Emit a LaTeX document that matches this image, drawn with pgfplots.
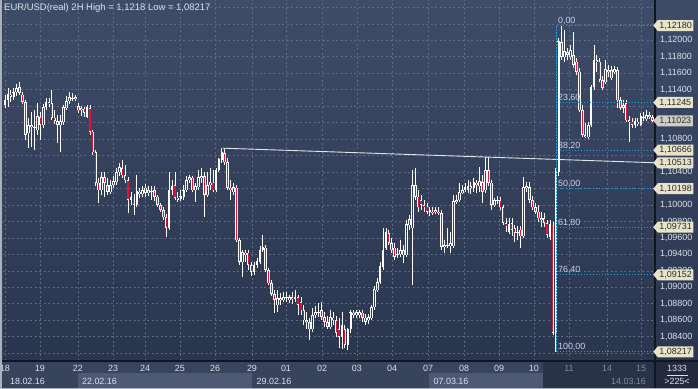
\documentclass[border=0pt]{standalone}
\usepackage{fontspec}
\setmainfont{Liberation Sans}
\usepackage{pgfplots}
\usepackage{pgfplotstable}
\pgfplotsset{compat=1.18}
\usetikzlibrary{shapes.symbols}
\definecolor{bgtop}{RGB}{63,76,104}
\definecolor{bgbot}{RGB}{42,53,78}
\definecolor{panel}{RGB}{56,67,92}
\definecolor{boxc}{RGB}{78,90,116}
\definecolor{darkov}{RGB}{40,50,72}
\definecolor{gridc}{RGB}{92,106,134}
\definecolor{candred}{RGB}{228,18,52}
\definecolor{fibc}{RGB}{28,160,222}
\definecolor{fibtxt}{RGB}{200,210,228}
\definecolor{labc}{RGB}{218,225,238}
\definecolor{dimc}{RGB}{128,138,158}
\definecolor{tagbg}{RGB}{232,228,202}
\definecolor{tagbg2}{RGB}{205,205,196}
\definecolor{tagtxt}{RGB}{45,45,45}
\definecolor{bordc}{RGB}{170,176,190}
\definecolor{sepc}{RGB}{16,22,34}

\pgfplotstableread{
b o h l c
0 1.1121 1.1134 1.1118 1.1127
1 1.1127 1.1142 1.1119 1.1134
2 1.1134 1.1140 1.1125 1.1131
3 1.1131 1.1142 1.1127 1.1137
4 1.1137 1.1147 1.1132 1.1141
5 1.1143 1.1149 1.1134 1.1136
6 1.1134 1.1137 1.1123 1.1125
7 1.1125 1.1127 1.1079 1.1085
8 1.1088 1.1106 1.1069 1.1097
9 1.1097 1.1113 1.1070 1.1095
10 1.1095 1.1115 1.1067 1.1094
11 1.1091 1.1124 1.1085 1.1107
12 1.1107 1.1113 1.1079 1.1097
13 1.1097 1.1123 1.1094 1.1119
14 1.1119 1.1130 1.1115 1.1125
15 1.1125 1.1130 1.1119 1.1123
16 1.1124 1.1140 1.1103 1.1106
17 1.1106 1.1115 1.1098 1.1102
18 1.1102 1.1109 1.1075 1.1097
19 1.1097 1.1109 1.1064 1.1101
20 1.1101 1.1121 1.1097 1.1118
21 1.1118 1.1132 1.1115 1.1126
22 1.1126 1.1137 1.1123 1.1130
23 1.1130 1.1136 1.1126 1.1129
24 1.1129 1.1134 1.1126 1.1130
25 1.1120 1.1124 1.1112 1.1115
26 1.1115 1.1120 1.1108 1.1117
27 1.1117 1.1119 1.1107 1.1112
28 1.1107 1.1121 1.1106 1.1118
29 1.1118 1.1121 1.1085 1.1089
30 1.1089 1.1091 1.1061 1.1064
31 1.1064 1.1067 1.1023 1.1027
32 1.1027 1.1033 1.1003 1.1018
33 1.1018 1.1040 1.1012 1.1034
34 1.1034 1.1040 1.1010 1.1027
35 1.1024 1.1033 1.1012 1.1016
36 1.1016 1.1030 1.1013 1.1024
37 1.1024 1.1035 1.1021 1.1028
38 1.1028 1.1045 1.1024 1.1040
39 1.1040 1.1051 1.1035 1.1045
40 1.1045 1.1055 1.1033 1.1036
41 1.1036 1.1049 1.1027 1.1030
42 1.1030 1.1034 1.0990 1.1006
43 1.1006 1.1016 1.1000 1.1009
44 1.1009 1.1013 1.0988 1.1000
45 1.1000 1.1036 1.0998 1.1016
46 1.1016 1.1021 1.1009 1.1013
47 1.1013 1.1023 1.1010 1.1018
48 1.1021 1.1026 1.1010 1.1015
49 1.1015 1.1023 1.1011 1.1017
50 1.1017 1.1023 1.1006 1.1016
51 1.1018 1.1023 1.1005 1.1010
52 1.1010 1.1012 1.0997 1.1000
53 1.1000 1.1003 1.0992 1.0994
54 1.0994 1.0998 1.0982 1.0985
55 1.0985 1.0989 1.0961 1.0972
56 1.0972 1.1040 1.0970 1.1018
57 1.1018 1.1030 1.1012 1.1023
58 1.1024 1.1040 1.1006 1.1009
59 1.1009 1.1016 1.1004 1.1006
60 1.1007 1.1018 1.1005 1.1010
61 1.1010 1.1024 1.1006 1.1018
62 1.1018 1.1035 1.1016 1.1030
63 1.1030 1.1036 1.1027 1.1033
64 1.1033 1.1035 1.1016 1.1018
65 1.1018 1.1027 1.1004 1.1022
66 1.1022 1.1042 1.1018 1.1033
67 1.1033 1.1045 1.1027 1.1035
68 1.1035 1.1040 1.0985 1.1012
69 1.1012 1.1040 1.1010 1.1024
70 1.1024 1.1045 1.1018 1.1027
71 1.1027 1.1042 1.1016 1.1018
72 1.1018 1.1045 1.1016 1.1042
73 1.1042 1.1057 1.1040 1.1055
74 1.1055 1.1069 1.1051 1.1064
75 1.1063 1.1069 1.1049 1.1052
76 1.1052 1.1057 1.1018 1.1021
77 1.1021 1.1030 1.1006 1.1018
78 1.1016 1.1027 1.1012 1.1021
79 1.1021 1.1024 1.0955 1.0957
80 1.0957 1.0960 1.0927 1.0931
81 1.0931 1.0945 1.0913 1.0942
82 1.0942 1.0945 1.0931 1.0939
83 1.0942 1.0945 1.0921 1.0927
84 1.0927 1.0931 1.0914 1.0919
85 1.0919 1.0931 1.0915 1.0927
86 1.0927 1.0936 1.0924 1.0931
87 1.0931 1.0950 1.0928 1.0945
88 1.0945 1.0964 1.0943 1.0948
89 1.0948 1.0951 1.0919 1.0921
90 1.0921 1.0924 1.0903 1.0905
91 1.0905 1.0909 1.0889 1.0892
92 1.0892 1.0897 1.0869 1.0885
93 1.0879 1.0897 1.0870 1.0887
94 1.0887 1.0893 1.0879 1.0885
95 1.0885 1.0894 1.0882 1.0888
96 1.0888 1.0894 1.0882 1.0887
97 1.0885 1.0891 1.0881 1.0888
98 1.0888 1.0894 1.0880 1.0886
99 1.0886 1.0897 1.0882 1.0888
100 1.0888 1.0891 1.0866 1.0879
101 1.0882 1.0888 1.0866 1.0872
102 1.0872 1.0879 1.0854 1.0860
103 1.0860 1.0870 1.0849 1.0858
104 1.0858 1.0863 1.0836 1.0849
105 1.0849 1.0875 1.0846 1.0866
106 1.0866 1.0877 1.0863 1.0870
107 1.0870 1.0881 1.0864 1.0869
108 1.0872 1.0882 1.0860 1.0864
109 1.0864 1.0870 1.0852 1.0858
110 1.0858 1.0865 1.0849 1.0852
111 1.0852 1.0872 1.0849 1.0863
112 1.0863 1.0870 1.0854 1.0860
113 1.0860 1.0865 1.0840 1.0845
114 1.0849 1.0863 1.0826 1.0840
115 1.0840 1.0870 1.0825 1.0854
116 1.0849 1.0854 1.0826 1.0830
117 1.0830 1.0851 1.0824 1.0849
118 1.0849 1.0872 1.0845 1.0869
119 1.0869 1.0872 1.0863 1.0866
120 1.0866 1.0872 1.0863 1.0869
121 1.0866 1.0872 1.0863 1.0870
122 1.0869 1.0872 1.0858 1.0863
123 1.0863 1.0868 1.0854 1.0858
124 1.0860 1.0868 1.0855 1.0863
125 1.0863 1.0879 1.0860 1.0876
126 1.0876 1.0902 1.0872 1.0897
127 1.0897 1.0911 1.0894 1.0906
128 1.0906 1.0931 1.0904 1.0925
129 1.0925 1.0972 1.0921 1.0945
130 1.0948 1.0972 1.0945 1.0967
131 1.0966 1.0970 1.0951 1.0954
132 1.0954 1.0960 1.0942 1.0945
133 1.0948 1.0954 1.0933 1.0937
134 1.0939 1.0948 1.0936 1.0940
135 1.0940 1.0957 1.0937 1.0945
136 1.0945 1.0951 1.0930 1.0939
137 1.0939 1.0982 1.0937 1.0976
138 1.0976 1.0988 1.0970 1.0982
139 1.0972 1.1042 1.0903 1.1024
140 1.1024 1.1045 1.1006 1.1010
141 1.1010 1.1018 1.0992 1.0997
142 1.1006 1.1012 1.0994 1.1000
143 1.1000 1.1006 1.0992 1.0998
144 1.0998 1.1003 1.0989 1.0992
145 1.0992 1.0997 1.0987 1.0993
146 1.0992 1.0997 1.0988 1.0990
147 1.0992 1.0997 1.0989 1.0993
148 1.0992 1.0997 1.0988 1.0990
149 1.0990 1.0994 1.0945 1.0949
150 1.0949 1.0957 1.0942 1.0951
151 1.0951 1.0972 1.0948 1.0950
152 1.0950 1.0967 1.0942 1.0953
153 1.0950 1.1012 1.0948 1.1004
154 1.1004 1.1012 1.1001 1.1006
155 1.1006 1.1027 1.1004 1.1015
156 1.1015 1.1024 1.1013 1.1018
157 1.1018 1.1027 1.1016 1.1021
158 1.1018 1.1030 1.1015 1.1023
159 1.1023 1.1028 1.1013 1.1021
160 1.1021 1.1033 1.1016 1.1027
161 1.1027 1.1030 1.1015 1.1024
162 1.1023 1.1046 1.1016 1.1028
163 1.1028 1.1036 1.1003 1.1016
164 1.1018 1.1058 1.1015 1.1042
165 1.1042 1.1058 1.1023 1.1027
166 1.1027 1.1030 1.0994 1.1000
167 1.1000 1.1009 1.0997 1.1006
168 1.1006 1.1011 1.1001 1.1005
169 1.1006 1.1010 1.0994 1.0997
170 1.0997 1.1000 1.0976 1.0978
171 1.0978 1.0984 1.0967 1.0974
172 1.0967 1.0984 1.0965 1.0976
173 1.0978 1.0984 1.0962 1.0970
174 1.0972 1.0976 1.0955 1.0966
175 1.0966 1.0974 1.0957 1.0967
176 1.0970 1.0974 1.0948 1.0962
177 1.0962 1.1034 1.0960 1.1021
178 1.1021 1.1028 1.1016 1.1022
179 1.1022 1.1028 1.1003 1.1006
180 1.1006 1.1011 1.0994 1.0997
181 1.0997 1.1003 1.0989 1.0992
182 1.0992 1.1000 1.0979 1.0984
183 1.0984 1.0992 1.0973 1.0982
184 1.0984 1.0990 1.0973 1.0978
185 1.0978 1.0982 1.0960 1.0964
186 1.0961 1.0982 1.0957 1.0976
187 1.0976 1.0979 1.0842 1.0845
188 1.0845 1.1045 1.08217 1.1040
189 1.1040 1.1203 1.1035 1.1198
190 1.1198 1.1218 1.1176 1.1180
191 1.1180 1.1213 1.1174 1.1186
192 1.1186 1.1191 1.1176 1.1182
193 1.1180 1.1194 1.1176 1.1188
194 1.1182 1.1210 1.1166 1.1170
195 1.1174 1.1179 1.1158 1.1162
196 1.1162 1.1166 1.1113 1.1115
197 1.1115 1.1121 1.1083 1.1085
198 1.1085 1.1100 1.1081 1.1083
199 1.1083 1.1101 1.1080 1.1097
200 1.1097 1.1146 1.1095 1.1143
201 1.1143 1.1194 1.1140 1.1176
202 1.1176 1.1182 1.1162 1.1174
203 1.1174 1.1179 1.1149 1.1152
204 1.1152 1.1157 1.1140 1.1142
205 1.1149 1.1176 1.1147 1.1164
206 1.1164 1.1170 1.1155 1.1162
207 1.1164 1.1169 1.1152 1.1154
208 1.1162 1.1169 1.1159 1.1164
209 1.1164 1.1168 1.1118 1.1127
210 1.1127 1.1131 1.1115 1.1118
211 1.1121 1.1127 1.1112 1.1118
212 1.1124 1.1127 1.1101 1.1103
213 1.1103 1.1108 1.1077 1.1101
214 1.1101 1.1106 1.1094 1.1097
215 1.1097 1.1106 1.1094 1.1101
216 1.1101 1.1106 1.1096 1.1098
217 1.1097 1.1112 1.1096 1.1107
218 1.1107 1.1113 1.1102 1.1106
219 1.1104 1.1115 1.1102 1.1109
220 1.1109 1.1113 1.1104 1.1107
221 1.1107 1.1109 1.1101 1.11023
}\candles

\tikzset{
  tag/.style={signal, signal to=west, signal pointer angle=100, fill=tagbg, text=tagtxt,
    font=\fontsize{9}{10}\selectfont, inner xsep=1.6bp, inner ysep=1.2bp, minimum height=11bp, anchor=west},
  fiblab/.style={anchor=south west, font=\fontsize{9}{10}\selectfont, text=fibtxt, inner sep=0.6bp, xshift=0.5bp},
  datelab/.style={font=\fontsize{9}{10}\selectfont, text=labc, inner sep=0pt}
}
\pgfplotsset{
  candle/.style n args={2}{draw=none, mark=none, forget plot,
    /pgfplots/error bars/y explicit,
    /pgfplots/error bars/y dir=#1,
    /pgfplots/error bars/error mark=none,
    /pgfplots/error bars/error bar style={line cap=butt, #2}},
  fibline/.style={fibc, line width=0.8bp, dash pattern=on 1.6bp off 1.4bp, mark=none},
}

\begin{document}
\begin{tikzpicture}
\useasboundingbox (0,0) rectangle (698bp,389bp);
\fill[panel] (0,0) rectangle (698bp,389bp);
\shade[top color=bgtop, bottom color=bgbot] (655bp,28bp) rectangle (698bp,389bp);
% bottom date panel
\fill[boxc] (78bp,0) rectangle (252bp,16bp);
\fill[boxc] (429bp,0) rectangle (543bp,16bp);
\fill[darkov] (543bp,1bp) rectangle (655bp,28bp);
\fill[darkov!85!black] (655bp,0) rectangle (698bp,28bp);

\begin{axis}[
  at={(3bp,28bp)}, anchor=south west, scale only axis,
  width=652bp, height=361bp,
  xmin=-0.68, xmax=221.84, ymin=1.08105, ymax=1.12490,
  clip=false,
  axis line style={draw=none},
  axis background/.style={top color=bgtop, bottom color=bgbot},
  major tick length=0pt,
  xtick={0,11.9,24.9,36.9,47.8,59.7,71.7,84.3,95.9,108.2,120.1,132.1,144.4,156.7,168.6,180.5,192.5,205.5,217.1},
  xticklabels={18,19,22,23,24,25,26,29,01,02,03,04,07,08,09,10,\textcolor{dimc}{11},\textcolor{dimc}{14},\textcolor{dimc}{15}},
  ytick={1.084,1.086,1.088,1.090,1.092,1.094,1.096,1.098,1.100,1.104,1.108,1.114,1.116,1.118,1.120},
  extra y ticks={1.082,1.102,1.106,1.110,1.112,1.122,1.124}, extra y tick labels={},
  yticklabel pos=right,
  scaled y ticks=false,
  y tick label style={/pgf/number format/fixed, /pgf/number format/fixed zerofill,
    /pgf/number format/precision=5, /pgf/number format/use comma,
    /pgf/number format/assume math mode=true, xshift=1.5bp},
  tick label style={font=\fontsize{9}{10}\selectfont, text=labc},
  xticklabel shift=1bp,
  grid=major,
  grid style={draw=gridc, dash pattern=on 2bp off 2.5bp, line width=0.7bp},
]
% lower wicks
\addplot[candle={minus}{draw=white, line width=0.8bp}]
  table[x=b, y expr={min(\thisrow{o},\thisrow{c})}, y error expr={min(\thisrow{o},\thisrow{c})-\thisrow{l}}] {\candles};
% upper wicks
\addplot[candle={plus}{draw=white, line width=0.8bp}]
  table[x=b, y expr={max(\thisrow{o},\thisrow{c})}, y error expr={\thisrow{h}-max(\thisrow{o},\thisrow{c})}] {\candles};
% down candles: white outline
\addplot[candle={plus}{draw=white, line width=2.6bp}]
  table[x=b, y=c, y error expr={max(\thisrow{o}-\thisrow{c},0.00006)}] {\candles};
% down candles: red fill
\addplot[candle={plus}{draw=candred, line width=1.15bp}]
  table[x=b, y expr={\thisrow{c}+0.00008}, y error expr={max(\thisrow{o}-\thisrow{c}-0.00016,0)}] {\candles};
% up candles: hollow body (two sides)
\addplot[candle={plus}{draw=white, line width=0.8bp}]
  table[x expr={\thisrow{b}-0.28}, y=o, y error expr={max(\thisrow{c}-\thisrow{o},0)}] {\candles};
\addplot[candle={plus}{draw=white, line width=0.8bp}]
  table[x expr={\thisrow{b}+0.28}, y=o, y error expr={max(\thisrow{c}-\thisrow{o},0)}] {\candles};

% trend line
\addplot[draw={rgb,255:red,226;green,229;blue,236}, line width=0.9bp, mark=none] coordinates {(74.4,1.1069) (221.84,1.10513)};

% Fibonacci levels
\addplot[fibline] coordinates {(188.3,1.08217) (188.3,1.12180)};
\addplot[fibline] coordinates {(188.3,1.12180) (221.84,1.12180)};
\addplot[fibline] coordinates {(188.3,1.11245) (221.84,1.11245)};
\addplot[fibline] coordinates {(188.3,1.10666) (221.84,1.10666)};
\addplot[fibline] coordinates {(188.3,1.10198) (221.84,1.10198)};
\addplot[fibline] coordinates {(188.3,1.09731) (221.84,1.09731)};
\addplot[fibline] coordinates {(188.3,1.09152) (221.84,1.09152)};
\addplot[fibline] coordinates {(188.3,1.08217) (221.84,1.08217)};

\node[fiblab] at (axis cs:188.3,1.12180) {0,00};
\node[fiblab] at (axis cs:188.3,1.11245) {23,60};
\node[fiblab] at (axis cs:188.3,1.10666) {38,20};
\node[fiblab] at (axis cs:188.3,1.10198) {50,00};
\node[fiblab] at (axis cs:188.3,1.09731) {61,80};
\node[fiblab] at (axis cs:188.3,1.09152) {76,40};
\node[fiblab] at (axis cs:188.3,1.08217) {100,00};

\coordinate (T1) at (axis cs:221.84,1.12180);
\coordinate (T2) at (axis cs:221.84,1.11245);
\coordinate (T3) at (axis cs:221.84,1.11023);
\coordinate (T4) at (axis cs:221.84,1.10666);
\coordinate (T5) at (axis cs:221.84,1.10513);
\coordinate (T6) at (axis cs:221.84,1.10198);
\coordinate (T7) at (axis cs:221.84,1.09731);
\coordinate (T8) at (axis cs:221.84,1.09152);
\coordinate (T9) at (axis cs:221.84,1.08217);
\end{axis}

% separators and borders
\draw[sepc, line width=1.2bp] (655bp,0) -- (655bp,389bp);
\draw[sepc, line width=1.2bp] (0,28bp) -- (698bp,28bp);
\fill[bordc] (0,0) rectangle (1.5bp,389bp);
\fill[bordc] (0,0) rectangle (698bp,1.2bp);

% title
\node[anchor=north west, inner sep=0pt, font=\fontsize{9.5}{11}\selectfont, text=labc] at (4bp,385.5bp)
  {EUR/USD(real) 2H High = 1,1218 Low = 1,08217};

% price tags
\node[tag, xshift=-2bp] at (T1) {1,12180};
\node[tag, xshift=-2bp] at (T2) {1,11245};
\node[tag, xshift=-2bp, fill=tagbg2] at (T3) {1,11023};
\node[tag, xshift=-2bp] at (T4) {1,10666};
\node[tag, xshift=-2bp] at (T5) {1,10513};
\node[tag, xshift=-2bp] at (T6) {1,10198};
\node[tag, xshift=-2bp] at (T7) {1,09731};
\node[tag, xshift=-2bp] at (T8) {1,09152};
\node[tag, xshift=-2bp] at (T9) {1,08217};

% date row
\node[datelab] at (27.5bp,8bp) {18.02.16};
\node[datelab] at (99.5bp,8bp) {22.02.16};
\node[datelab] at (274bp,8bp) {29.02.16};
\node[datelab] at (451bp,8bp) {07.03.16};
\node[datelab, text=dimc] at (628.5bp,8bp) {14.03.16};
% bar counter
\node[datelab] at (677bp,20.5bp) {1333};
\draw[labc, line width=0.6bp] (667bp,13.5bp) -- (688bp,13.5bp);
\node[datelab] at (677bp,7.5bp) {>225<};
\end{tikzpicture}
\end{document}
